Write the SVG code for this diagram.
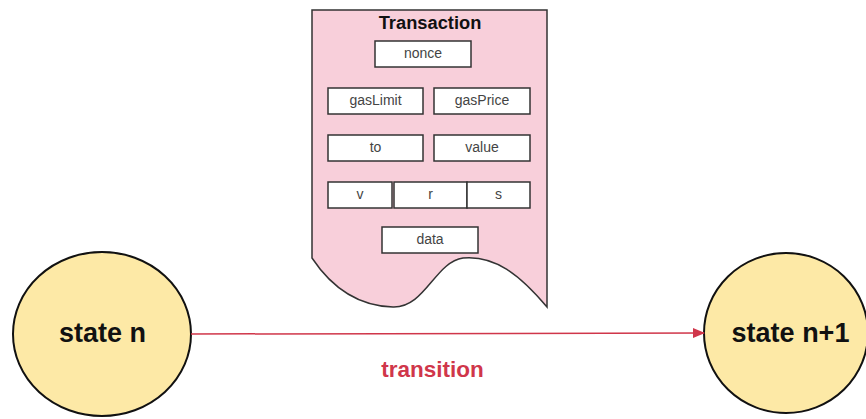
<svg xmlns="http://www.w3.org/2000/svg" width="866" height="419" viewBox="0 0 866 419">
<style>
.field{fill:#fff;stroke:#333;stroke-width:1.5}
.ft{font-family:"Liberation Sans",Arial,sans-serif;font-size:14px;fill:#444;text-anchor:middle}
.state{fill:#fde9a6;stroke:#111;stroke-width:2}
.st{font-family:"Liberation Sans",Arial,sans-serif;font-size:27px;font-weight:bold;fill:#111;text-anchor:middle}
</style>
<defs>
<marker id="arr" markerWidth="12" markerHeight="10" refX="11" refY="5" orient="auto" markerUnits="userSpaceOnUse">
<path d="M0,0 L12,5 L0,10 Z" fill="#d0364a"/>
</marker>
</defs>
<g id="transaction">
<path d="M312,10 L547,10 L547,307 C520,275 495,255 463,258 C435,262 425,308 393,307 C355,306 330,285 312,258 Z" fill="#f8cfda" stroke="#333" stroke-width="1.5"/>
<text x="430" y="29" font-family="Liberation Sans,Arial,sans-serif" font-size="18.3" font-weight="bold" fill="#111" text-anchor="middle">Transaction</text>
</g>
<g id="nonce"><rect class="field" x="375" y="41" width="96" height="26"/><text class="ft" x="423" y="58">nonce</text></g>
<g id="gasLimit"><rect class="field" x="328" y="88" width="95" height="26"/><text class="ft" x="375.5" y="105">gasLimit</text></g>
<g id="gasPrice"><rect class="field" x="434" y="88" width="96" height="26"/><text class="ft" x="482" y="105">gasPrice</text></g>
<g id="to"><rect class="field" x="328" y="135" width="95" height="26"/><text class="ft" x="375.5" y="152">to</text></g>
<g id="value"><rect class="field" x="434" y="135" width="96" height="26"/><text class="ft" x="482" y="152">value</text></g>
<g id="v"><rect class="field" x="328" y="182" width="64" height="26"/><text class="ft" x="360" y="199">v</text></g>
<g id="r"><rect class="field" x="394" y="182" width="73" height="26"/><text class="ft" x="430.5" y="199">r</text></g>
<g id="s"><rect class="field" x="467" y="182" width="63" height="26"/><text class="ft" x="498.5" y="199">s</text></g>
<g id="data"><rect class="field" x="382" y="227" width="96" height="26"/><text class="ft" x="430" y="244">data</text></g>
<g id="state-n"><ellipse class="state" cx="102" cy="334" rx="89" ry="82"/><text class="st" x="102.5" y="342">state n</text></g>
<g id="state-n1"><ellipse class="state" cx="786" cy="333" rx="82" ry="80"/><text class="st" x="790.5" y="342">state n+1</text></g>
<g id="connectors">
<line x1="191" y1="334" x2="704" y2="333" stroke="#d0364a" stroke-width="1.5" marker-end="url(#arr)"/>
<text x="432.5" y="377" font-family="Liberation Sans,Arial,sans-serif" font-size="22.5" font-weight="bold" fill="#d0364a" text-anchor="middle">transition</text>
</g>
</svg>
